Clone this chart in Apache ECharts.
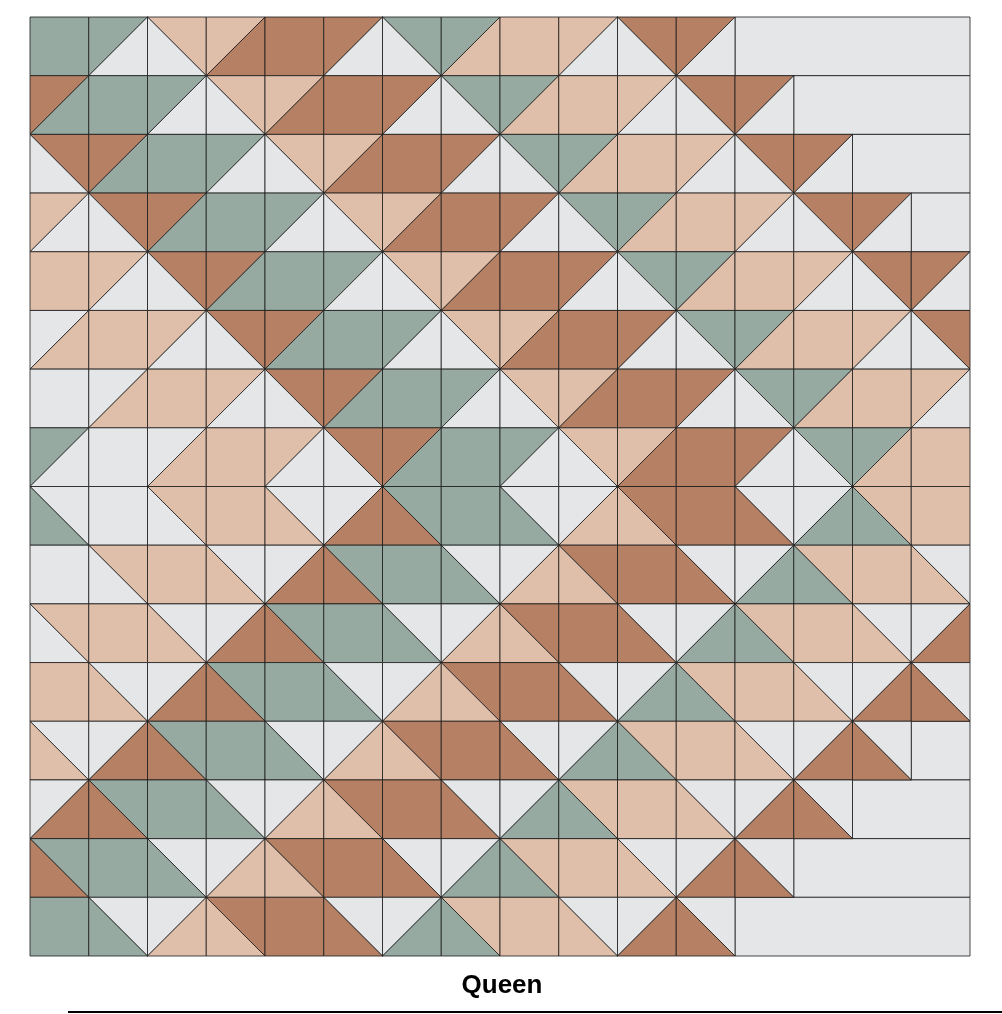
<!DOCTYPE html>
<html><head><meta charset="utf-8">
<script src="https://cdn.jsdelivr.net/npm/echarts@6/dist/echarts.min.js"></script>
<style>html,body{margin:0;padding:0;background:#fff}#c{width:1002px;height:1014px}</style>
</head><body><div id="c"></div>
<script>
// cell codes: solid "X"; "sXY" = '/' diagonal, X top-left, Y bottom-right; "bXY" = '\' diagonal, X top-right, Y bottom-left
const row0  = ["G","sGL","bPL","sPB","B","sBL","bGL","sGP","P","sPL","bBL","sBL"];
const row1  = ["sBG","G","sGL","bPL","sPB","B","sBL","bGL","sGP","P","sPL","bBL","sBL"];
const row2  = ["bBL","sBG","G","sGL","bPL","sPB","B","sBL","bGL","sGP","P","sPL","bBL","sBL"];
const row3  = ["sPL","bBL","sBG","G","sGL","bPL","sPB","B","sBL","bGL","sGP","P","sPL","bBL","sBL"];
const row4  = ["P","sPL","bBL","sBG","G","sGL","bPL","sPB","B","sBL","bGL","sGP","P","sPL","bBL","sBL"];
const row5  = ["sLP","P","sPL","bBL","sBG","G","sGL","bPL","sPB","B","sBL","bGL","sGP","P","sPL","bBL"];
const row6  = ["L","sLP","P","sPL","bBL","sBG","G","sGL","bPL","sPB","B","sBL","bGL","sGP","P","sPL"];
const row7  = ["sGL","L","sLP","P","sPL","bBL","sBG","G","sGL","bPL","sPB","B","sBL","bGL","sGP","P"];
const row8  = ["bLG","L","bPL","P","bLP","sLB","bGB","G","bLG","sLP","bBP","B","bLB","sLG","bPG","P"];
const row9  = ["L","bPL","P","bLP","sLB","bGB","G","bLG","sLP","bBP","B","bLB","sLG","bPG","P","bLP"];
const row10 = ["bPL","P","bLP","sLB","bGB","G","bLG","sLP","bBP","B","bLB","sLG","bPG","P","bLP","sLB"];
const row11 = ["P","bLP","sLB","bGB","G","bLG","sLP","bBP","B","bLB","sLG","bPG","P","bLP","sLB","bLB"];
const row12 = ["bLP","sLB","bGB","G","bLG","sLP","bBP","B","bLB","sLG","bPG","P","bLP","sLB","bLB"];
const row13 = ["sLB","bGB","G","bLG","sLP","bBP","B","bLB","sLG","bPG","P","bLP","sLB","bLB"];
const row14 = ["bGB","G","bLG","sLP","bBP","B","bLB","sLG","bPG","P","bLP","sLB","bLB"];
const row15 = ["G","bLG","sLP","bBP","B","bLB","sLG","bPG","P","bLP","sLB","bLB"];
const rows = [row0,row1,row2,row3,row4,row5,row6,row7,row8,row9,row10,row11,row12,row13,row14,row15];
const title = "Queen";
const colors = {G:"#96aaa2", L:"#e5e6e8", P:"#e0bfaa", B:"#b58064"};
const NCOLS = 16;

const cells = [], blanks = [];
rows.forEach((r, ri) => {
  r.forEach((code, ci) => cells.push([ci, ri, code]));
  if (r.length < NCOLS) blanks.push([r.length, ri, NCOLS - r.length]);
});
const stroke = {stroke:"#1a1a1a", lineWidth:0.8};
const chart = echarts.init(document.getElementById('c'));
chart.setOption({
  animation:false,
  grid:{left:30, right:32, top:17, bottom:58},
  xAxis:{type:'value', min:0, max:16, show:false},
  yAxis:{type:'value', min:0, max:16, inverse:true, show:false},
  title:{text:title, left:497, top:968, textAlign:'center',
    textStyle:{fontFamily:'Liberation Sans, Arial', fontWeight:'bold', fontSize:26, color:'#000'}},
  graphic:[{type:'line', shape:{x1:68,y1:1012,x2:1002,y2:1012}, style:{stroke:'#000', lineWidth:2}}],
  series:[
    {type:'custom', data:blanks, renderItem:(p, api) => {
      const a = api.coord([api.value(0), api.value(1)]);
      const b = api.coord([api.value(0)+api.value(2), api.value(1)+1]);
      return {type:'rect', shape:{x:a[0], y:a[1], width:b[0]-a[0], height:b[1]-a[1]},
        style:Object.assign({fill:colors.L}, stroke)};
    }},
    {type:'custom', data:cells, dimensions:['c','r','code'], renderItem:(p, api) => {
      const d = cells[p.dataIndex];
      const a = api.coord([d[0], d[1]]), b = api.coord([d[0]+1, d[1]+1]);
      const tl=[a[0],a[1]], tr=[b[0],a[1]], bl=[a[0],b[1]], br=[b[0],b[1]];
      const code = d[2];
      if (code.length === 1) {
        return {type:'rect', shape:{x:a[0], y:a[1], width:b[0]-a[0], height:b[1]-a[1]},
          style:Object.assign({fill:colors[code]}, stroke)};
      }
      let t1, t2;
      if (code[0] === 's') { t1=[tl,tr,bl]; t2=[tr,br,bl]; }
      else { t1=[tl,tr,br]; t2=[tl,br,bl]; }
      return {type:'group', children:[
        {type:'polygon', shape:{points:t1}, style:Object.assign({fill:colors[code[1]]}, stroke)},
        {type:'polygon', shape:{points:t2}, style:Object.assign({fill:colors[code[2]]}, stroke)}
      ]};
    }}
  ]
});
</script></body></html>
